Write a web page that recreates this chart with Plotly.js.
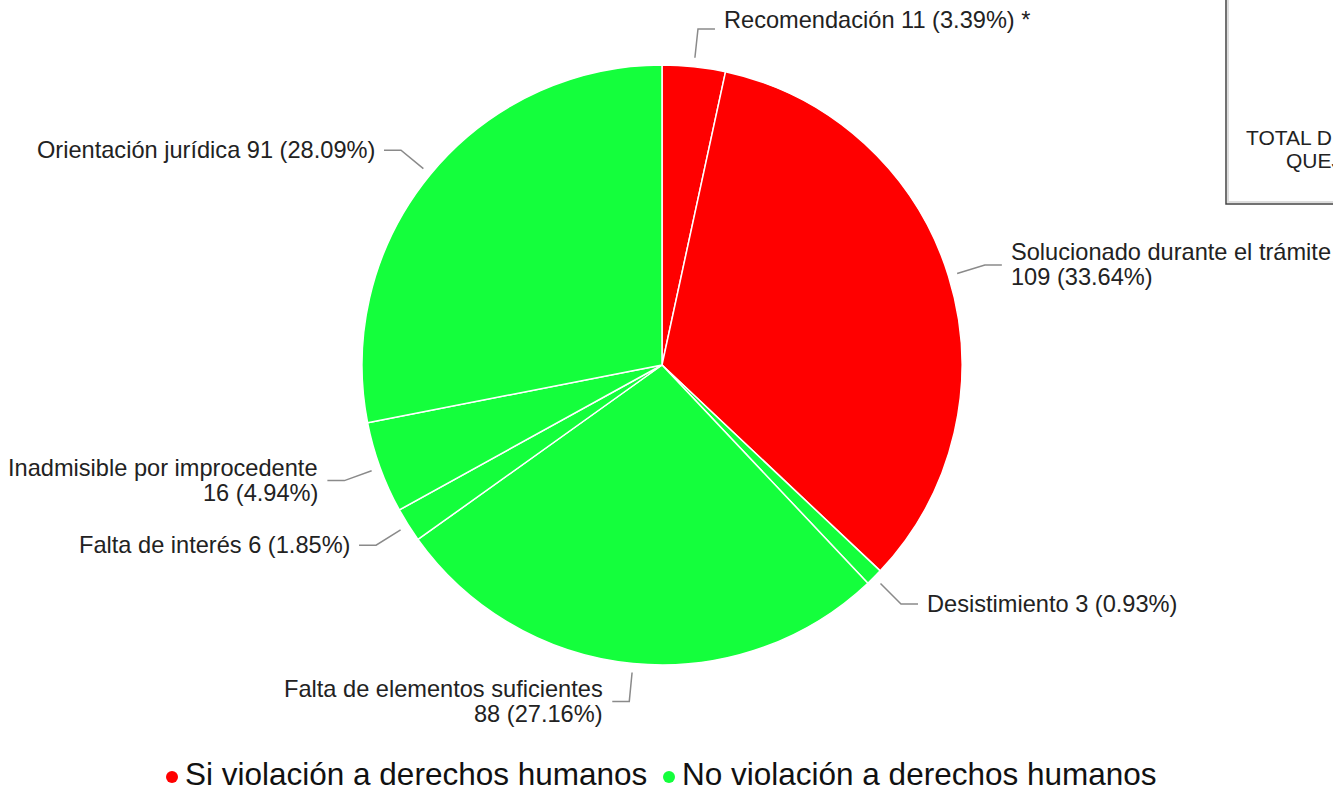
<!DOCTYPE html>
<html>
<head>
<meta charset="utf-8">
<script src="https://cdn.plot.ly/plotly-3.0.1.min.js"></script>
<style>
  html, body { margin: 0; padding: 0; background: #ffffff; overflow: hidden; }
  #chart { width: 1333px; height: 791px; }
</style>
</head>
<body>
<div id="chart"></div>
<script>
// ---- Data ----
const categories = ["Recomendación", "Solucionado durante el trámite", "Desistimiento",
  "Falta de elementos suficientes", "Falta de interés", "Inadmisible por improcedente",
  "Orientación jurídica"];
const values = [11, 109, 3, 88, 6, 16, 91];
const pctLabels = ["3.39%", "33.64%", "0.93%", "27.16%", "1.85%", "4.94%", "28.09%"];
const groups = ["Si", "Si", "No", "No", "No", "No", "No"];
const notes = [" *", "", "", "", "", "", ""];
const groupNames = ["Si", "No"];
const legendLabels = ["Si violación a derechos humanos", "No violación a derechos humanos"];
const boxLines = ["TOTAL DE", "QUEJAS"];

// ---- Styling ----
const W = 1333, H = 791;
const groupColors = { "Si": "#ff0000", "No": "#14ff3c" };
const FONT = "Liberation Sans, Arial, sans-serif";
const cx = 662, cy = 365, R = 300;
const legendX = [183, 680];   // text start of each legend item (px)
const legendY = 774;

function px(x) { return x / W; }
function py(y) { return (H - y) / H; }

const pieTrace = {
  type: "pie",
  values: values,
  labels: categories,
  sort: false,
  direction: "clockwise",
  rotation: 0,
  textinfo: "none",
  hoverinfo: "label+value+percent",
  showlegend: false,
  marker: { colors: groups.map(g => groupColors[g]), line: { color: "#ffffff", width: 1.5 } },
  domain: { x: [px(cx - R), px(cx + R)], y: [py(cy + R), py(cy - R)] }
};

// ---- Outside labels with leader lines, computed from slice mid-angles ----
const total = values.reduce((a, b) => a + b, 0);
const annotations = [];
const shapes = [];
let cum = 0;
values.forEach((v, i) => {
  const mid = (cum + v / 2) / total * 2 * Math.PI;
  cum += v;
  const s = Math.sin(mid), c = Math.cos(mid);
  const x0 = cx + (R + 9) * s, y0 = cy - (R + 9) * c;
  const x1 = cx + (R + 38) * s, y1 = cy - (R + 38) * c;
  const right = s >= 0;
  const x2 = x1 + (right ? 17 : -17);
  shapes.push({
    type: "path", xref: "paper", yref: "paper",
    path: `M ${px(x0)} ${py(y0)} L ${px(x1)} ${py(y1)} L ${px(x2)} ${py(y1)}`,
    line: { color: "#8a8a8a", width: 1.5 }
  });
  const tail = values[i] + " (" + pctLabels[i] + ")" + notes[i];
  const lines = categories[i].length > 22 ? [categories[i], tail] : [categories[i] + " " + tail];
  const tx = x2 + (right ? 7 : -7);
  // labels next to the top edge sit a little above their leader line
  const lift = y1 < 60 ? 9 : 0;
  lines.forEach((t, k) => {
    const ty = y1 - lift + (k - (lines.length - 1) / 2) * 25;
    annotations.push({
      xref: "paper", yref: "paper", x: px(tx), y: py(ty),
      xanchor: right ? "left" : "right", yanchor: "middle",
      align: right ? "left" : "right",
      text: t, showarrow: false,
      font: { family: FONT, size: 23.6, color: "#222222" }
    });
  });
});

// ---- Legend row (circle markers) ----
groupNames.forEach((g, i) => {
  shapes.push({
    type: "circle", xref: "paper", yref: "paper",
    x0: px(legendX[i] - 17), x1: px(legendX[i] - 5),
    y0: py(legendY + 9), y1: py(legendY - 3),
    fillcolor: groupColors[g], line: { width: 0 }
  });
  annotations.push({
    xref: "paper", yref: "paper", x: px(legendX[i]), y: py(legendY),
    xanchor: "left", yanchor: "middle", showarrow: false,
    height: 34, valign: "middle",
    text: legendLabels[i],
    font: { family: FONT, size: 31.5, color: "#111111" }
  });
});

// ---- Partially visible total box at the top right ----
shapes.push({
  type: "rect", xref: "paper", yref: "paper",
  x0: px(1228), x1: px(1450), y0: py(-20), y1: py(202),
  line: { color: "#dddddd", width: 2 }, fillcolor: "rgba(0,0,0,0)"
});
shapes.push({
  type: "rect", xref: "paper", yref: "paper",
  x0: px(1226), x1: px(1450), y0: py(-20), y1: py(204),
  line: { color: "#444444", width: 1.5 }, fillcolor: "rgba(0,0,0,0)"
});
annotations.push({
  xref: "paper", yref: "paper", x: px(1244), y: py(137),
  xanchor: "left", yanchor: "middle", showarrow: false,
  text: boxLines[0], font: { family: FONT, size: 21, color: "#222222" }
});
annotations.push({
  xref: "paper", yref: "paper", x: px(1284), y: py(160),
  xanchor: "left", yanchor: "middle", showarrow: false,
  text: boxLines[1], font: { family: FONT, size: 21, color: "#222222" }
});

const layout = {
  width: W, height: H,
  margin: { l: 0, r: 0, t: 0, b: 0 },
  paper_bgcolor: "#ffffff",
  plot_bgcolor: "#ffffff",
  showlegend: false,
  annotations: annotations,
  shapes: shapes
};

Plotly.newPlot("chart", [pieTrace], layout, { displayModeBar: false, staticPlot: true });
</script>
</body>
</html>
